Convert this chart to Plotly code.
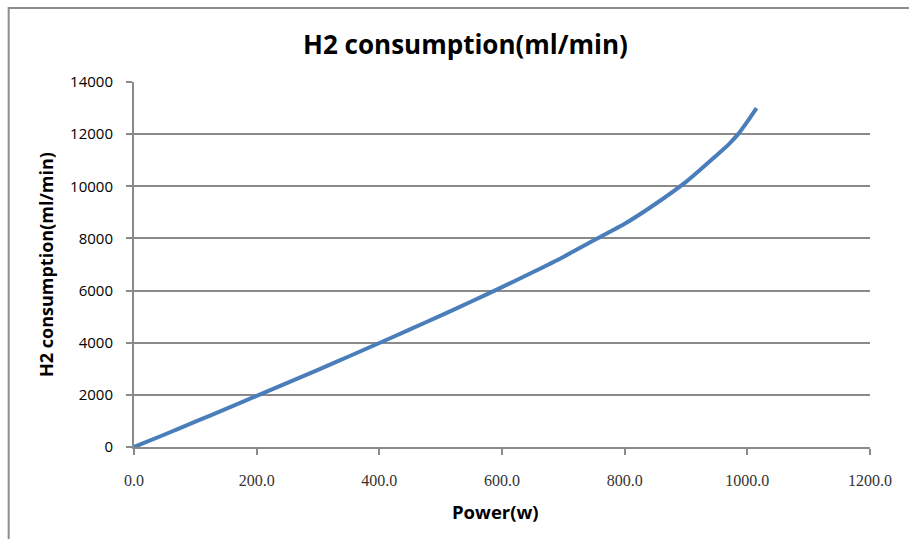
import plotly.graph_objects as go

power_w = [0, 50, 100, 150, 200, 250, 300, 350, 400, 450, 500, 550, 600, 650, 700,
           750, 800, 850, 900, 925, 950, 970, 985, 1000, 1015]
h2_ml_min = [0, 480, 970, 1460, 1960, 2460, 2960, 3470, 3990, 4510, 5040, 5580, 6130,
             6700, 7290, 7930, 8560, 9320, 10170, 10670, 11190, 11620, 12000, 12480, 13000]

x_tick_vals = [0, 200, 400, 600, 800, 1000, 1200]
x_tick_text = ["0.0", "200.0", "400.0", "600.0", "800.0", "1000.0", "1200.0"]
y_tick_vals = [0, 2000, 4000, 6000, 8000, 10000, 12000, 14000]
y_tick_text = ["0", "2000", "4000", "6000", "8000", "10000", "12000", "14000"]

GRID = "#8a8a8a"

W, H = 909, 539
L, R, T, B = 133.5, 38.5, 82, 92.3
pw, ph = W - L - R, H - T - B

fig = go.Figure()
fig.add_trace(go.Scatter(
    x=power_w, y=h2_ml_min, mode="lines",
    line=dict(color="#4a7ebb", width=4, shape="spline", smoothing=0.6),
    showlegend=False, hoverinfo="skip",
))

fig.update_layout(
    width=W, height=H,
    margin=dict(l=L, r=R, t=T, b=B),
    paper_bgcolor="white", plot_bgcolor="white",
    title=dict(text="<b>H2 consumption(ml/min)</b>", x=465.5 / W, xanchor="center",
               y=1 - 45 / H, yanchor="middle",
               font=dict(family="Open Sans", size=26, color="black")),
    xaxis=dict(
        range=[0, 1200], tickvals=x_tick_vals, ticktext=x_tick_text,
        showgrid=False, showline=True, linecolor=GRID, linewidth=2,
        ticks="outside", ticklen=6, tickcolor=GRID, tickwidth=2,
        ticklabelstandoff=12,
        tickfont=dict(family="Liberation Serif", size=16, color="#333"),
        zeroline=False,
    ),
    yaxis=dict(
        range=[0, 14000], tickvals=y_tick_vals, ticktext=y_tick_text,
        showgrid=True, gridcolor=GRID, gridwidth=2,
        showline=True, linecolor=GRID, linewidth=2,
        ticks="outside", ticklen=6, tickcolor=GRID, tickwidth=2,
        ticklabelstandoff=10,
        tickfont=dict(family="Open Sans", size=15, color="black"),
        title=dict(text="<b>H2 consumption(ml/min)</b>", standoff=12,
                   font=dict(family="Open Sans", size=18, color="black")),
        zeroline=False,
    ),
    annotations=[dict(
        text="<b>Power(w)</b>", xref="paper", yref="paper",
        x=(495.5 - L) / pw, y=1 - (511 - T) / ph, xanchor="center", yanchor="middle",
        showarrow=False, font=dict(family="Open Sans", size=18.5, color="black"),
    )],
)

# chart-area frame (top and left edges visible)
fig.add_shape(type="rect", xref="paper", yref="paper",
              x0=(8 - L) / pw, x1=(W + 20 - L) / pw,
              y0=-(B + 20) / ph, y1=1 + (T - 8) / ph,
              line=dict(color="#8c8c8c", width=2), fillcolor="rgba(0,0,0,0)",
              layer="below")

fig.write_html(
    "out.html",
    config={"displayModeBar": False},
    post_script="document.body.style.margin='0';document.body.style.overflow='hidden';",
)
